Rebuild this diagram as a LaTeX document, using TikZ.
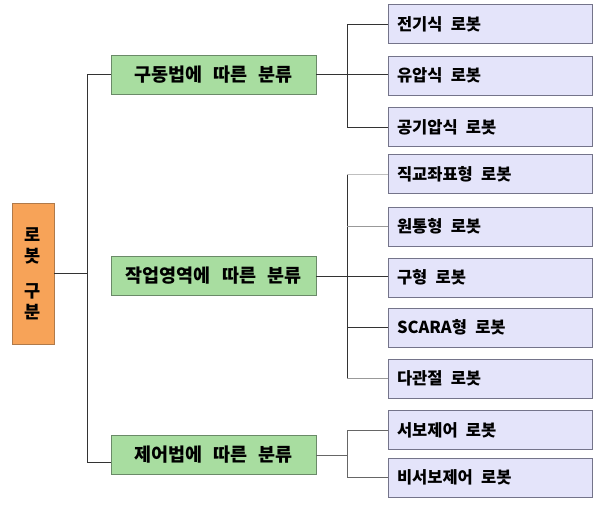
\documentclass[tikz,border=0pt]{standalone}
\usepackage{fontspec}
\newfontfamily\kr{Noto Sans CJK KR}
\definecolor{orfill}{HTML}{F7A358}
\definecolor{ordraw}{HTML}{B07A4A}
\definecolor{grfill}{HTML}{A8DDA0}
\definecolor{grdraw}{HTML}{6A8A68}
\definecolor{blfill}{HTML}{E4E4FA}
\definecolor{bldraw}{HTML}{74748A}
\newcommand{\wsp}{\hspace{0.5em}}
\newcommand{\gsp}{\hspace{0.6em}}
\tikzset{
  rootbox/.style={draw=ordraw, fill=orfill, line width=0.8pt, minimum width=42pt, minimum height=141pt, inner sep=0pt, align=center, font=\kr\fontsize{17.5}{21}\selectfont\bfseries},
  catbox/.style={draw=grdraw, fill=grfill, line width=0.8pt, minimum width=205pt, minimum height=39pt, inner sep=0pt, font=\kr\fontsize{18.5}{20}\selectfont\bfseries},
  itembox/.style={draw=bldraw, fill=blfill, line width=0.8pt, minimum height=39pt, text width=186pt, inner xsep=9pt, inner ysep=0pt, align=left, font=\kr\fontsize{16.5}{18}\selectfont\bfseries},
  dk/.style={draw=black!80, line width=0.8pt},
  md/.style={draw=black!60, line width=0.8pt},
  lt/.style={draw=black!40, line width=0.8pt},
  xl/.style={draw=black!25, line width=0.8pt},
}
\begin{document}
\begin{tikzpicture}[x=1pt,y=-1pt]
\useasboundingbox[fill=white] (0,0) rectangle (601,504);
\node[rootbox] (root) at (33,273.5) {로\\봇\\[14pt]구\\분};
\node[catbox] (g1) at (213.5,74.5) {구동법에\gsp 따른\gsp 분류};
\node[catbox] (g2) at (213.5,276) {작업영역에\gsp 따른\gsp 분류};
\node[catbox] (g3) at (213.5,455) {제어법에\gsp 따른\gsp 분류};
\node[itembox] (r1) at (490,24) {전기식\wsp 로봇};
\node[itembox] (r2) at (490,75.5) {유압식\wsp 로봇};
\node[itembox] (r3) at (490,127) {공기압식\wsp 로봇};
\node[itembox] (r4) at (490,174) {직교좌표형\wsp 로봇};
\node[itembox] (r5) at (490,226.5) {원통형\wsp 로봇};
\node[itembox] (r6) at (490,277.5) {구형\wsp 로봇};
\node[itembox] (r7) at (490,327.5) {SCARA형\wsp 로봇};
\node[itembox] (r8) at (490,378.5) {다관절\wsp 로봇};
\node[itembox] (r9) at (490,430) {서보제어\wsp 로봇};
\node[itembox] (r10) at (490,477.5) {비서보제어\wsp 로봇};
\coordinate (t3) at (87,462);
\coordinate (b) at (347,0);
% trunk
\draw[dk] (root.east) -- (root.east -| t3);
\draw[dk] (g1.west) -| (t3) |- ([yshift=-7pt]g3.west);
% top group
\draw[dk] (g1.east) -- (g1.east -| r2.west);
\draw[dk] (r1.west) -- (r1.west -| b) -- (r3.west -| b) -- (r3.west);
% middle group
\draw[dk] (g2.east) -- (g2.east -| r6.west);
\draw[dk] (r4.west -| b) -- (r8.west -| b);
\draw[xl] (r4.west -| b) -- (r4.west);
\draw[lt] (r5.west -| b) -- (r5.west);
\draw[dk] (r7.west -| b) -- (r7.west);
\draw[lt] (r8.west -| b) -- (r8.west);
% bottom group
\draw[md] (g3.east) -- (g3.east -| b);
\draw[md] (r9.west) -- (r9.west -| b) -- (r10.west -| b) -- (r10.west);
\end{tikzpicture}
\end{document}
